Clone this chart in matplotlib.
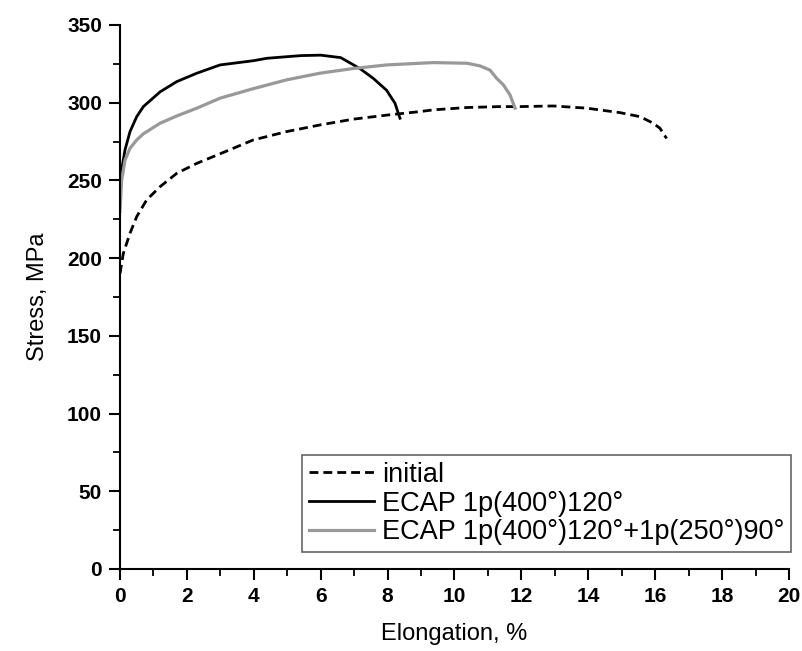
import matplotlib.pyplot as plt
from matplotlib.ticker import MultipleLocator

plt.rcParams['font.family'] = ['Liberation Sans', 'DejaVu Sans']

# values (elongation %, stress MPa)
initial_x = [0.0, 0.1, 0.3, 0.5, 0.8, 1.2, 1.7, 2.3, 3.09, 3.98, 4.98, 5.98, 6.97, 7.97, 8.97,
             9.37, 10.37, 11.36, 11.96, 12.95, 13.95, 14.95, 15.55, 15.94, 16.14, 16.34]
initial_y = [190, 203, 216, 226.7, 237.5, 246, 254.6, 261, 268, 276, 281.4, 285.7, 289.4, 292, 294.3,
             295.4, 296.9, 297.5, 297.5, 297.9, 296.5, 293.6, 291, 286.8, 283.6, 277]

ecap1_x = [0.0, 0.05, 0.15, 0.3, 0.5, 0.7, 1.2, 1.7, 2.3, 2.99, 3.98, 4.4, 5.4, 6.0, 6.6,
           7.17, 7.57, 7.97, 8.22, 8.37]
ecap1_y = [247, 256.8, 269.6, 281.4, 291, 297.5, 307, 313.6, 319, 324.3, 327, 328.6, 330.3, 330.6, 329,
           322, 315.7, 308, 299.7, 290]

ecap2_x = [0.0, 0.05, 0.15, 0.3, 0.5, 0.7, 1.2, 1.7, 2.3, 2.99, 3.98, 4.98, 5.98, 6.97, 7.97,
           8.97, 9.37, 10.37, 10.76, 11.06, 11.26, 11.46, 11.66, 11.81]
ecap2_y = [230, 250, 263, 270.7, 276, 280, 286.8, 291.5, 296.5, 302.9, 309, 314.7, 319, 322, 324.3,
           325.4, 325.8, 325.4, 323.7, 321, 315.7, 311.5, 305, 296.5]

labels = ['initial', 'ECAP 1p(400°)120°', 'ECAP 1p(400°)120°+1p(250°)90°']

fig = plt.figure(figsize=(8.03, 6.51), dpi=100)
ax = fig.add_axes([0.1494, 0.126, 0.8332, 0.8356])

ax.plot(initial_x, initial_y, color='black', lw=2, linestyle=(0, (3.2, 1.8)), label=labels[0])
ax.plot(ecap1_x, ecap1_y, color='black', lw=2, solid_joinstyle='round', label=labels[1])
ax.plot(ecap2_x, ecap2_y, color='#999999', lw=2.3, solid_joinstyle='round', label=labels[2])

ax.set_xlim(0, 20)
ax.set_ylim(0, 350)
ax.xaxis.set_major_locator(MultipleLocator(2))
ax.xaxis.set_minor_locator(MultipleLocator(1))
ax.yaxis.set_major_locator(MultipleLocator(50))
ax.yaxis.set_minor_locator(MultipleLocator(25))

ax.spines['top'].set_visible(False)
ax.spines['right'].set_visible(False)
for s in ['left', 'bottom']:
    ax.spines[s].set_linewidth(1.5)

ax.tick_params(which='major', direction='out', length=8, width=1.5, labelsize=15, pad=5)
ax.tick_params(which='minor', direction='out', length=5, width=1.3)
for lab in ax.get_xticklabels() + ax.get_yticklabels():
    lab.set_fontweight('bold')

ax.set_xlabel('Elongation, %', fontsize=17)
ax.set_ylabel('Stress, MPa', fontsize=17)
ax.xaxis.set_label_coords(0.5, -0.10)
ax.yaxis.set_label_coords(-0.106, 0.5)

leg = ax.legend(loc='lower right', bbox_to_anchor=(0.985, 0.152), bbox_transform=fig.transFigure,
                fontsize=19.5, handlelength=2.4, handletextpad=0.3, borderpad=0.25,
                labelspacing=0.1, fancybox=False, framealpha=1, borderaxespad=0)
leg.get_frame().set_edgecolor('#666666')
leg.get_frame().set_linewidth(1.2)

fig.savefig('out.png', dpi=100)
